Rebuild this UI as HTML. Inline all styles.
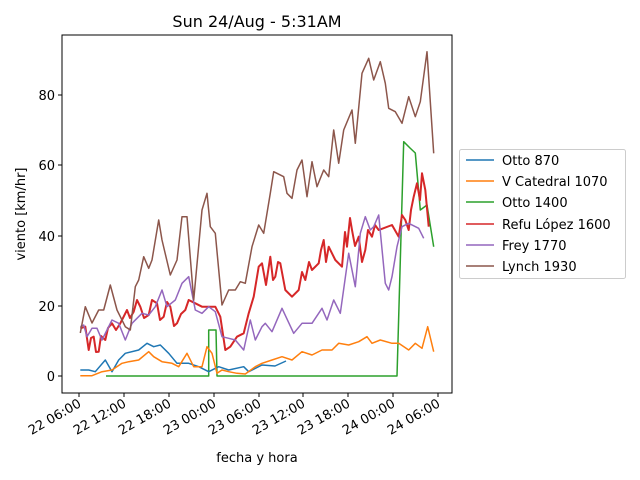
<!DOCTYPE html>
<html><head><meta charset="utf-8"><style>body{margin:0;background:#fff}svg{display:block}text{font-family:"DejaVu Sans","Liberation Sans",sans-serif;fill:#000}</style></head><body>
<svg width="640" height="480" viewBox="0 0 640 480">
<rect x="62" y="35" width="390" height="358" fill="none" stroke="#000" stroke-width="1"/>
<g font-size="13" text-anchor="end">
<g stroke="#000"><line x1="58" y1="376" x2="62" y2="376"/><line x1="58" y1="306" x2="62" y2="306"/><line x1="58" y1="236" x2="62" y2="236"/><line x1="58" y1="165" x2="62" y2="165"/><line x1="58" y1="95" x2="62" y2="95"/></g>
<text x="55" y="381">0</text><text x="55" y="311">20</text><text x="55" y="241">40</text><text x="55" y="170">60</text><text x="55" y="100">80</text>
</g>
<g stroke="#000">
<line x1="79" y1="393" x2="79" y2="397"/><line x1="124" y1="393" x2="124" y2="397"/><line x1="169" y1="393" x2="169" y2="397"/><line x1="214" y1="393" x2="214" y2="397"/><line x1="259" y1="393" x2="259" y2="397"/><line x1="303" y1="393" x2="303" y2="397"/><line x1="348" y1="393" x2="348" y2="397"/><line x1="393" y1="393" x2="393" y2="397"/><line x1="438" y1="393" x2="438" y2="397"/>
</g>
<g font-size="13" text-anchor="end">
<text transform="translate(82,406) rotate(-30)">22 06:00</text>
<text transform="translate(127,406) rotate(-30)">22 12:00</text>
<text transform="translate(172,406) rotate(-30)">22 18:00</text>
<text transform="translate(217,406) rotate(-30)">23 00:00</text>
<text transform="translate(262,406) rotate(-30)">23 06:00</text>
<text transform="translate(306,406) rotate(-30)">23 12:00</text>
<text transform="translate(351,406) rotate(-30)">23 18:00</text>
<text transform="translate(396,406) rotate(-30)">24 00:00</text>
<text transform="translate(441,406) rotate(-30)">24 06:00</text>
</g>
<text x="257" y="27" font-size="16" text-anchor="middle">Sun 24/Aug - 5:31AM</text>
<text x="257" y="462" font-size="13" text-anchor="middle">fecha y hora</text>
<text transform="translate(25,214) rotate(-90)" font-size="13" text-anchor="middle">viento [km/hr]</text>
<g fill="none" stroke-width="1.5" stroke-linejoin="round">
<polyline stroke="#2ca02c" points="106,376 208.7,376 208.7,330 216,330 217,376 397,376 403.7,141.7 410,148 415.3,153 420.3,210 427,205 433.7,246.7"/>
<polyline stroke="#1f77b4" points="80.3,370 88.7,370 95.3,371.7 105.3,360 112,371.7 118.7,360 125.3,353.3 138.7,350 147,343.3 153.7,346.7 160.3,345 168.7,353.3 177,363.3 188.7,363.3 198.7,366.7 208.7,371.7 218.7,366.7 228.7,370 243.7,366.7 248.7,371.7 262,365 275,366 286,361"/>
<polyline stroke="#ff7f0e" points="80.3,375.7 92,375.7 102,371.7 112,370 122,363.3 128.7,361.7 138.7,360 148.7,351.7 153.7,356.7 162,361.7 172,363.3 178.7,366.7 187,353.3 193.7,366.7 202,366.7 207,346.7 212,353.3 217,373.3 222,370 228.7,371.7 237,373.3 245.3,374 255.3,366.7 262,363.3 272,360 282,356.7 292,360 302,351.7 312,355 322,350 332,350 338.7,343.3 348.7,345 358.7,341.7 367,336.7 372,343.3 380.3,340 392,343.3 398.7,343.3 408.7,350 415.3,343.3 422,348.3 427.7,326.7 433.7,351.7"/>
<polyline stroke="#d62728" stroke-width="2" points="80.3,328.3 85.3,326.7 88.7,350 91,338 93.7,336.7 96,352 98.7,351.7 101,336 105.3,340 108,328 112,323.3 116,330 120.3,323.3 124,316 127,310 130,318 133.7,311.7 137,300 140.3,306.7 144,318 148.7,315 152,300 157,303.3 160,320 163.7,316.7 167,302 170.3,306.7 174,326 177,323.3 181,314 185.3,310 188.7,300 195.3,303.3 202,306.7 215.3,306.7 220.3,316.7 225.3,350 230.3,346.7 237,336.7 243.7,333.3 248.7,313.3 253.7,296.7 258.7,266.7 262,263.3 266,285 270.3,256.7 273,280 275.3,276.7 278,262 280.3,263.3 285.3,290 292,296.7 298.7,290 302,272 305.3,280 309,262 312,270 318.7,263.3 321,250 323.7,240 326,262 328.7,246.7 335.3,260 342,266.7 345,232 347,246.7 350,218 352,230 355,246 358.7,236.7 362,262 365.3,250 368,230 372,236.7 375,225 378.7,230 392,225 398.7,236.7 402,215 405.3,220 408.7,230 411,210 413.7,196.7 417,183.3 420,200 422,173.3 425.3,190 428.7,226.7"/>
<polyline stroke="#9467bd" points="80.3,326.7 83.7,325 87,336.7 92,328.3 97,328.3 102,340 107,330 112,320 118.7,323.3 125.3,340 132,323.3 142,313.3 148.7,315 155.3,306.7 162,290 167,306.7 175.3,300 182,283.3 188.7,276.7 195.3,310 202,313.3 208.7,306.7 215.3,311.7 222,336.7 228.7,338.3 235.3,340 243.7,350 250.3,320 255.3,340 262,326.7 265.3,323.3 272,331.7 282,308.3 293.7,333.3 302,323.3 312,323.3 322,308.3 327,320 333.7,300 340.3,313.3 348.7,253.3 355.3,286.7 360.3,233.3 365.3,216.7 370.3,230 373.7,226.7 378.7,215 385.3,283.3 388.7,290 392,276.7 397,246.7 402,226.7 408.7,223.3 418.7,228.3 423.7,238.3"/>
<polyline stroke="#8c564b" points="80.3,333 85.3,306.7 92,323 98.7,310 103.7,310 110.3,285 117,310 125.3,326.7 130.3,330 135.3,286.7 138.7,280 143.7,256.7 148.7,268.3 152,260 158.7,220 162,240 170.3,275 177,260 182,216.7 187,216.7 193.7,300 202,210 207,193.3 210.3,226.7 215.3,233.3 222,305 228.7,290 235.3,290 240.3,281.7 245.3,283.3 252,246.7 258.7,225 263.7,233.3 270.3,193.3 273.7,171.7 283.7,176.7 287,193.3 292,198.3 297,170 302,160 307,196.7 312,161.7 317,186.7 323.7,170 328.7,176.7 333.7,130 338.7,163.3 343.7,130 352,110 355.3,143.3 362,73.3 368.7,58.3 373.7,80 380.3,61.7 385.3,83.3 388.7,108.3 395.3,111.7 402,123.3 408.7,96.7 415.3,116.7 420.3,101.7 427,51.7 433.7,153.3"/>
</g>
<rect x="459.5" y="149.5" width="166" height="129" rx="2" fill="#fff" stroke="#ccc"/>
<g stroke-width="1.5">
<line x1="466" y1="160" x2="494" y2="160" stroke="#1f77b4"/>
<line x1="466" y1="181" x2="494" y2="181" stroke="#ff7f0e"/>
<line x1="466" y1="202" x2="494" y2="202" stroke="#2ca02c"/>
<line x1="466" y1="224" x2="494" y2="224" stroke="#d62728"/>
<line x1="466" y1="245" x2="494" y2="245" stroke="#9467bd"/>
<line x1="466" y1="266" x2="494" y2="266" stroke="#8c564b"/>
</g>
<g font-size="13">
<text x="502" y="165">Otto 870</text>
<text x="502" y="186">V Catedral 1070</text>
<text x="502" y="207">Otto 1400</text>
<text x="502" y="229">Refu López 1600</text>
<text x="502" y="250">Frey 1770</text>
<text x="502" y="271">Lynch 1930</text>
</g>
</svg>
</body></html>
